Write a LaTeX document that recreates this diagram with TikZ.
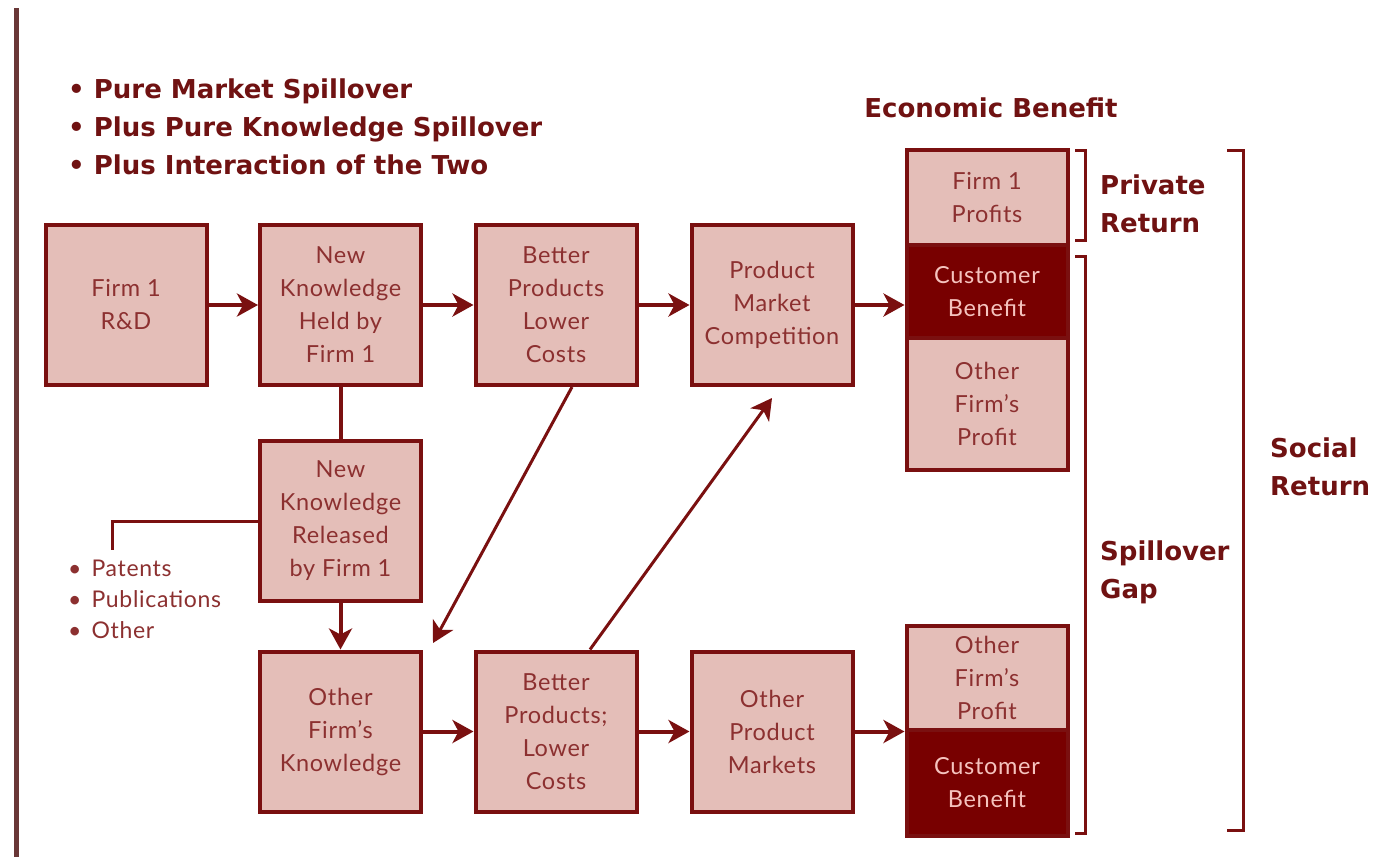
\documentclass[tikz,border=0pt]{standalone}
\usepackage{fontspec}
\setmainfont{Lato}
\newfontfamily\headfont{DejaVu Sans}
\newfontfamily\boxfont{Lato}[LetterSpace=3]
\usetikzlibrary{arrows.meta}
\definecolor{boxfill}{RGB}{228,190,184}
\definecolor{edge}{RGB}{122,16,16}
\definecolor{boxtext}{RGB}{140,48,48}
\definecolor{headtext}{RGB}{112,18,18}
\definecolor{darkfill}{RGB}{120,0,0}
\definecolor{lighttext}{RGB}{245,195,190}
\definecolor{sidebar}{RGB}{105,55,55}
\begin{document}
\begin{tikzpicture}[x=1pt,y=-1pt,
  stagebox/.style={draw=edge, line width=4pt, fill=boxfill, text=boxtext,
    minimum width=161pt, minimum height=160pt, align=center, inner sep=0pt,
    font=\boxfont\fontsize{23.5}{33}\selectfont},
  part/.style={draw=edge, line width=4pt, fill=boxfill, text=boxtext,
    minimum width=161pt, align=center, inner sep=0pt,
    font=\boxfont\fontsize{23.5}{33}\selectfont},
  darkpart/.style={part, fill=darkfill, text=lighttext},
  flow/.style={draw=edge, line width=4pt, -{Stealth[length=21pt,width=23pt,inset=6pt]}},
  thinflow/.style={draw=edge, line width=3pt, -{Stealth[length=21pt,width=23pt,inset=6pt]}},
  link/.style={draw=edge, line width=3pt},
  bracket/.style={draw=edge, line width=3pt},
  heading/.style={text=headtext, font=\headfont\bfseries\fontsize{26}{38}\selectfont, inner sep=0pt, align=left},
  listtext/.style={text=boxtext, font=\boxfont\fontsize{23}{31}\selectfont, inner sep=0pt, align=left},
]
\useasboundingbox (0,0) rectangle (1391,857);
\fill[white] (0,0) rectangle (1391,857);

% side rule
\draw[sidebar, line width=5pt] (16,8) -- (16,857);

% headings
\node[heading, anchor=west] (bullets) at (68,127)
  {• Pure Market Spillover\\• Plus Pure Knowledge Spillover\\• Plus Interaction of the Two};
\node[heading, anchor=center] (econ) at (991,108) {Economic Benefit};

% upper row
\node[stagebox] (rd)    at (126,305)   {Firm 1\\R\&D};
\node[stagebox] (held)  at (340.5,305) {New\\Knowledge\\Held by\\Firm 1};
\node[stagebox] (bp1)   at (556,305)   {Better\\Products\\Lower\\Costs};
\node[stagebox] (pmc)   at (772,305)   {Product\\Market\\Competition};

% lower rows
\node[stagebox] (rel)   at (340.5,521) {New\\Knowledge\\Released\\by Firm 1};
\node[stagebox] (ofk)   at (340.5,731.5) {Other\\Firm’s\\Knowledge};
\node[stagebox] (bp2)   at (556,731.5) {Better\\Products;\\Lower\\Costs};
\node[stagebox] (opm)   at (772,731.5) {Other\\Product\\Markets};

% benefit stacks
\node[part, minimum height=95pt]  (fp)  at (987,197.5) {Firm 1\\Profits};
\node[part, minimum height=132pt] (ofp1) at (987,404) {Other\\Firm’s\\Profit};
\node[darkpart, minimum height=93pt] (cb1) at (987,291.5) {Customer\\Benefit};
\node[part, minimum height=104pt] (ofp2) at (987,678) {Other\\Firm’s\\Profit};
\node[darkpart, minimum height=106pt] (cb2) at (987,783) {Customer\\Benefit};

% brackets and return labels
\draw[bracket] (1075,150) -- (1085,150) -- (1085,240) -- (1075,240);
\draw[bracket] (1075,256) -- (1085,256) -- (1085,833) -- (1075,833);
\draw[bracket] (1227,150) -- (1243,150) -- (1243,830) -- (1227,830);
\node[heading, anchor=west] (priv) at (1100,204) {Private\\Return};
\node[heading, anchor=west] (gap)  at (1100,572) {Spillover\\Gap};
\node[heading, anchor=west] (soc)  at (1270,467) {Social\\Return};

% release channels
\node[listtext, anchor=north west] (chan) at (68,560) {•\hspace{10pt}Patents\\•\hspace{10pt}Publications\\•\hspace{10pt}Other};
\coordinate (chantop) at (112,550);

% connectors
\draw[flow] (rd) -- (held);
\draw[flow] (held) -- (bp1);
\draw[flow] (bp1) -- (pmc);
\draw[flow] (pmc.east) -- (pmc.east -| cb1.west);
\draw[link, line width=4pt] (held) -- (rel);
\draw[flow] (rel) -- (ofk);
\draw[link] (rel.west) -| (chantop);
\draw[flow] (ofk) -- (bp2);
\draw[flow] (bp2) -- (opm);
\draw[flow] (opm.east) -- (opm.east -| cb2.west);

\coordinate (spilltip) at (433,643);
\draw[thinflow] ([xshift=16pt]bp1.south) -- (spilltip);
\draw[thinflow] ([xshift=34pt]bp2.north) -- ([yshift=-11pt]pmc.south);
\end{tikzpicture}
\end{document}
